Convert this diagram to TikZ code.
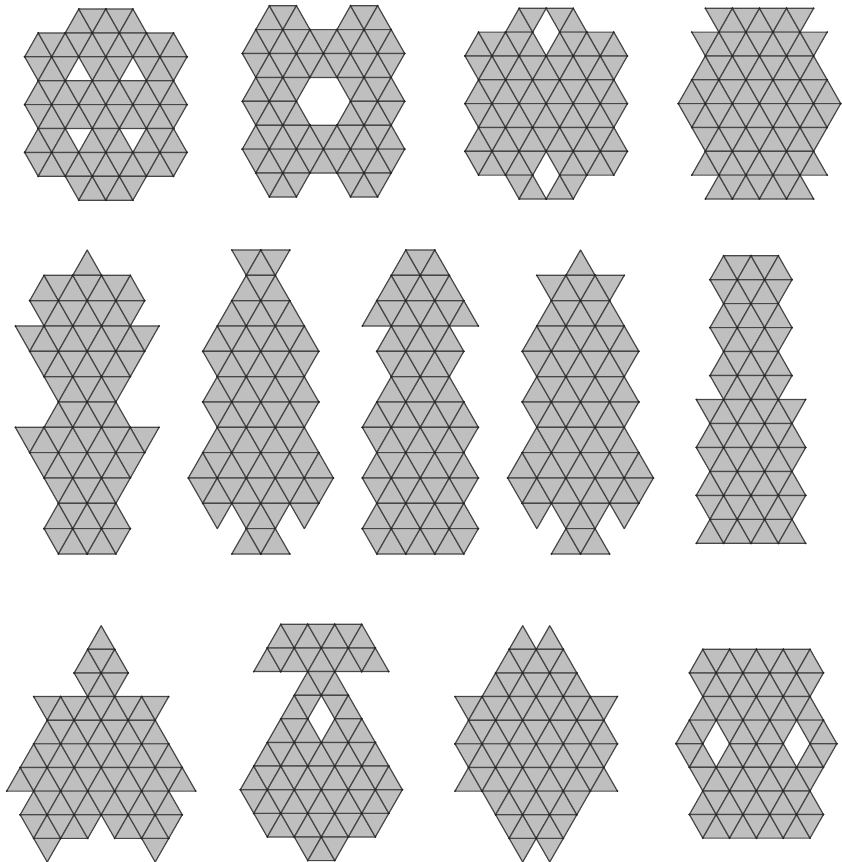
\documentclass[tikz,border=0pt]{standalone}
\usepackage{xcolor}
\definecolor{tilegray}{gray}{0.75}
\definecolor{tileline}{gray}{0.28}

\newcommand{\polyshape}[5]{%
  \begin{scope}[shift={(#1,#2)}, x=#3*0.5pt, y=-#4*0.5pt]
    \foreach \rw/\first/\last in {#5} {
      \foreach \k in {\first,...,\last} {
        \pgfmathtruncatemacro{\odd}{mod(\k+\rw,2)}
        \ifnum\odd=0
          \draw[tile] (\k,\rw) -- (\k+2,\rw) -- (\k+1,\rw+1) -- cycle;
        \else
          \draw[tile] (\k,\rw+1) -- (\k+2,\rw+1) -- (\k+1,\rw) -- cycle;
        \fi
      }
    }
    \foreach \rw/\first/\last in {#5} {
      \foreach \k in {\first,...,\last} {
        \pgfmathtruncatemacro{\base}{\rw+mod(\k+\rw,2)}
        \fill[vert] (\k,\base) circle[radius=0.5pt] (\k+2,\base) circle[radius=0.5pt];
      }
    }
  \end{scope}
}

\begin{document}
\begin{tikzpicture}[x=0.5pt, y=-0.5pt,
    tile/.style={fill=tilegray, draw=tileline, line width=0.6pt, line join=round},
    vert/.style={fill=black!85}]
  \useasboundingbox (0,0) rectangle (841,862);
  % top row
  \polyshape{24.67}{9}{13.53}{23.9}{0/3/7,1/0/10,2/0/2,2/4/6,2/8/10,3/0/10,4/0/10,5/0/2,5/4/6,5/8/10,6/0/10,7/3/7}
  \polyshape{242.3}{5.7}{13.53}{23.9}{0/1/3,0/7/9,1/0/10,2/0/10,3/0/3,3/7/10,4/0/3,4/7/10,5/0/10,6/0/10,7/1/3,7/7/9}
  \polyshape{465}{8.3}{13.53}{23.83}{0/3/4,0/6/7,1/0/4,1/6/10,2/0/10,3/0/10,4/0/10,5/0/10,6/0/4,6/6/10,7/3/4,7/6/7}
  \polyshape{678.3}{8.3}{13.53}{23.83}{0/2/8,1/1/9,2/1/9,3/0/10,4/0/10,5/1/9,6/1/9,7/2/8}
  % middle row
  \polyshape{0.96}{250}{14.37}{25.33}{0/5/5,1/2/8,2/2/8,3/1/9,4/2/8,5/3/7,6/3/7,7/1/9,8/2/8,9/3/7,10/3/7,11/3/7}
  \polyshape{173.8}{250}{14.5}{25.33}{0/4/6,1/4/6,2/3/7,3/2/8,4/2/8,5/2/8,6/2/8,7/2/8,8/1/9,9/1/9,10/2/2,10/4/6,10/8/8,11/4/6}
  \polyshape{347.8}{250}{14.5}{25.33}{0/3/5,1/2/6,2/1/7,3/2/6,4/2/6,5/2/6,6/1/7,7/1/7,8/1/7,9/1/7,10/1/7,11/1/7}
  \polyshape{493.1}{250}{14.57}{25.33}{0/5/5,1/3/7,2/3/7,3/2/8,4/2/8,5/2/8,6/2/8,7/2/8,8/1/9,9/1/9,10/2/2,10/4/6,10/8/8,11/4/6}
  \polyshape{696.3}{255.7}{13.67}{23.97}{0/1/5,1/1/5,2/1/5,3/1/5,4/1/5,5/1/5,6/0/6,7/0/6,8/0/6,9/0/6,10/0/6,11/0/6}
  % bottom row
  \polyshape{-6.8}{625.7}{13.5}{23.63}{0/7/7,1/6/8,2/6/8,3/3/11,4/3/11,5/2/12,6/1/13,7/2/12,8/2/6,8/8/12,9/3/3,9/11/11}
  \polyshape{226.8}{624.3}{13.5}{23.63}{0/3/9,1/2/10,2/5/7,3/4/5,3/7/8,4/3/5,4/7/9,5/2/10,6/1/11,7/1/11,8/2/10,9/5/7}
  \polyshape{441.5}{625.7}{13.53}{23.63}{0/5/5,0/7/7,1/4/8,2/3/9,3/1/11,4/1/11,5/1/11,6/1/11,7/3/9,8/4/8,9/5/5,9/7/7}
  \polyshape{676}{649.3}{13.4}{23.6}{0/1/9,1/1/9,2/1/9,3/0/1,3/3/7,3/9/10,4/0/1,4/3/7,4/9/10,5/1/9,6/1/9,7/1/9}
\end{tikzpicture}
\end{document}
